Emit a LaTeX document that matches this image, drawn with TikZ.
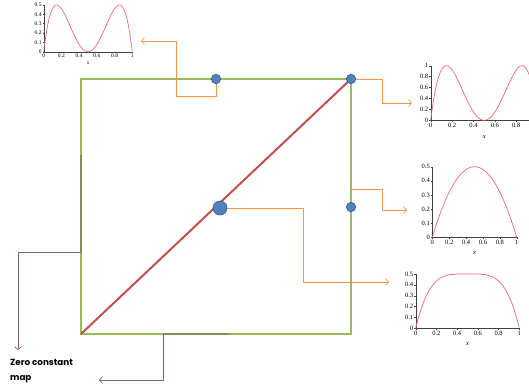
\documentclass[tikz,border=0pt]{standalone}
\usepackage{fontspec}
\setmainfont{Liberation Serif}
\newfontfamily\zfont{Poppins}
\usetikzlibrary{arrows.meta}
\definecolor{sqgreen}{HTML}{9BBB59}
\definecolor{diagred}{HTML}{C0504D}
\definecolor{dotblue}{HTML}{4F81BD}
\definecolor{dotedge}{HTML}{385D8A}
\definecolor{conorange}{HTML}{F79646}
\definecolor{conbrown}{HTML}{955F5F}
\definecolor{segolive}{HTML}{8C8A5C}
\definecolor{curvered}{HTML}{F26B6B}
\tikzset{
  sq/.style={draw=sqgreen, line width=1.4pt},
  diag/.style={draw=diagred, line width=2pt},
  dot/.style={circle, fill=dotblue, draw=dotedge, line width=0.6pt, inner sep=0pt, minimum size=9.5pt},
  bigdot/.style={dot, minimum size=14pt},
  oconn/.style={draw=conorange, line width=0.7pt, -{Straight Barb[length=3pt,width=7pt]}},
  bconn/.style={draw=conbrown, line width=0.7pt, -{Straight Barb[length=3pt,width=7pt]}},
  bseg/.style={draw=segolive, line width=1.4pt},
  curve/.style={draw=curvered, line width=0.7pt},
  ax/.style={draw=black!75, line width=0.4pt},
  smalltick/.style={font=\fontsize{5.5}{5.5}\selectfont, inner sep=0.8pt},
  midtick/.style={font=\fontsize{6.5}{6.5}\selectfont, inner sep=1pt},
  zlabel/.style={font=\zfont\bfseries\fontsize{8.8}{15}\selectfont, align=left, inner sep=0pt}
}
\begin{document}
\begin{tikzpicture}[x=1pt,y=-1pt]
\useasboundingbox (0,0) rectangle (529,388);

% ---- plot 1 (top left)
\begin{scope}[shift={(43.7pt,-51.7pt)}, x=88.6pt, y=93.4pt]
  \draw[ax] (0,0) -- (1,0);
  \draw[ax] (0,0) -- (0,0.5);
  \foreach \t in {0,0.2,0.4,0.6,0.8,1}
    \draw[ax] (\t,0) -- ++(0,-1.2pt) node[smalltick, below] {\t};
  \foreach \t in {0,0.1,0.2,0.3,0.4,0.5}
    \draw[ax] (0,\t) -- ++(-1.2pt,0) node[smalltick, left] {\t};
  \node[smalltick, font=\fontsize{5.5}{5.5}\selectfont\itshape] at (0.5,-0.12) {x};
  \draw[curve] plot[domain=0:1, samples=120, smooth] (\x, {2*(4*\x*(1-\x))*(1-4*\x*(1-\x))});
\end{scope}

% ---- plot 2 (top right)
\begin{scope}[shift={(430.7pt,-120.3pt)}, x=107pt, y=54.6pt]
  \draw[ax] (0,0) -- (0.92,0);
  \draw[ax] (0,0) -- (0,1);
  \foreach \t in {0,0.2,0.4,0.6,0.8}
    \draw[ax] (\t,0) -- ++(0,-1.3pt) node[midtick, below] {\t};
  \foreach \t in {0,0.2,0.4,0.6,0.8,1}
    \draw[ax] (0,\t) -- ++(-1.3pt,0) node[midtick, left] {\t};
  \node[midtick, font=\fontsize{6.5}{6.5}\selectfont\itshape] at (0.5,-0.3) {x};
  \draw[curve] plot[domain=0:0.92, samples=120, smooth] (\x, {4*(4*\x*(1-\x))*(1-4*\x*(1-\x))});
\end{scope}

% ---- plot 3 (middle right)
\begin{scope}[shift={(432.3pt,-237.3pt)}, x=84.4pt, y=141.2pt]
  \draw[ax] (0,0) -- (1,0);
  \draw[ax] (0,0) -- (0,0.5);
  \foreach \t in {0,0.2,0.4,0.6,0.8,1}
    \draw[ax] (\t,0) -- ++(0,-1.3pt) node[midtick, below] {\t};
  \foreach \t in {0,0.1,0.2,0.3,0.4,0.5}
    \draw[ax] (0,\t) -- ++(-1.3pt,0) node[midtick, left] {\t};
  \node[midtick, font=\fontsize{6.5}{6.5}\selectfont\itshape] at (0.5,-0.11) {x};
  \draw[curve] plot[domain=0:1, samples=80, smooth] (\x, {2*\x*(1-\x)});
\end{scope}

% ---- plot 4 (bottom right)
\begin{scope}[shift={(415.7pt,-328.3pt)}, x=103.6pt, y=108.6pt]
  \draw[ax] (0,0) -- (1,0);
  \draw[ax] (0,0) -- (0,0.5);
  \foreach \t in {0,0.2,0.4,0.6,0.8,1}
    \draw[ax] (\t,0) -- ++(0,-1.3pt) node[midtick, below] {\t};
  \foreach \t in {0,0.1,0.2,0.3,0.4,0.5}
    \draw[ax] (0,\t) -- ++(-1.3pt,0) node[midtick, left] {\t};
  \node[midtick, font=\fontsize{6.5}{6.5}\selectfont\itshape] at (0.5,-0.14) {x};
  \draw[curve] plot[domain=0:1, samples=100, smooth] (\x, {0.5*(1-((1-2*\x)*(1-2*\x))*((1-2*\x)*(1-2*\x)))});
\end{scope}

% ---- square and diagonal
\coordinate (sqbl) at (81,334);
\coordinate (sqtr) at (351,79);
\draw[sq] (81,79) rectangle (351,334);
\draw[diag] (sqbl) -- (sqtr);

% ---- brown marks and connectors
\coordinate (l1) at (81,155);
\coordinate (l2) at (81,252);
\coordinate (a5) at (18,350);
\draw[bseg] (l1) -- (l2);
\draw[bconn] (l2) -| (a5);
\coordinate (b1) at (163,334);
\coordinate (b2) at (229,334);
\coordinate (a6) at (99,380);
\draw[bseg] (b1) -- (b2);
\draw[bconn] (b1) |- (a6);

% ---- dots
\node[dot] (dtop) at (216,79) {};
\node[dot] (dtr) at (351,79) {};
\node[dot] (dr) at (351,207) {};
\node[bigdot] (dc) at (220,208) {};

% ---- orange connectors
\coordinate (k1) at (176,96);
\coordinate (a1) at (141,41);
\draw[oconn] (dtop.south) |- (k1) |- (a1);
\coordinate (k2) at (382,103);
\coordinate (a2) at (412,103);
\draw[oconn] (dtr.east) -| (k2) -- (a2);
\coordinate (k3) at (382,189);
\coordinate (a3) at (407,210);
\draw[oconn] (dr.north) |- (k3) |- (a3);
\coordinate (k4) at (303,282);
\coordinate (a4) at (389,282);
\draw[oconn] (dc.east) -| (k4) -- (a4);

% ---- label
\node[zlabel, anchor=north west] (zl) at (10,359) {Zero constant\\map};
\end{tikzpicture}
\end{document}
